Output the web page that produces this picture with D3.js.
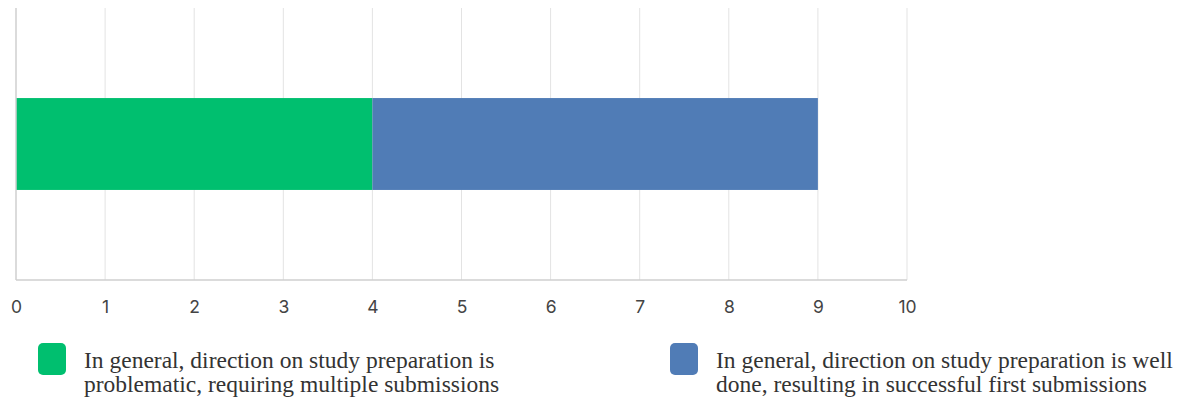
<!DOCTYPE html>
<html><head><meta charset="utf-8">
<script src="https://cdn.jsdelivr.net/npm/d3@7"></script>
<style>body{margin:0;background:#fff}svg{display:block}</style>
</head><body>
<svg id="chart" width="1194" height="406"></svg>
<script>
const categories = ["Responses"];
const seriesNames = [
  "In general, direction on study preparation is problematic, requiring multiple submissions",
  "In general, direction on study preparation is well done, resulting in successful first submissions"
];
const seriesValues = [4, 5];
const seriesColors = ["#00BF6F", "#507CB6"];
const tickValues = [0,1,2,3,4,5,6,7,8,9,10];
const legendLines = [
  ["In general, direction on study preparation is", "problematic, requiring multiple submissions"],
  ["In general, direction on study preparation is well", "done, resulting in successful first submissions"]
];

const svg = d3.select("#chart");
const m = {left:16, top:8, bottom:280};
const x = d3.scaleLinear().domain([0,10]).range([m.left, 907]);
const y = d3.scaleBand().domain(categories).range([m.top, m.bottom]).paddingInner(0).paddingOuter(0.98);

// gridlines
svg.append("g").selectAll("line").data(tickValues.slice(1)).join("line")
  .attr("x1", d=>x(d)).attr("x2", d=>x(d)).attr("y1", m.top).attr("y2", m.bottom)
  .attr("stroke", "#e3e3e3").attr("stroke-width", 1);

// stacked bars
let acc = 0;
const stacks = seriesValues.map((v,i)=>{const s={x0:acc,x1:acc+v,i}; acc+=v; return s;});
svg.append("g").selectAll("rect").data(stacks).join("rect")
  .attr("x", d=>x(d.x0)).attr("width", d=>x(d.x1)-x(d.x0))
  .attr("y", y(categories[0])).attr("height", y.bandwidth())
  .attr("fill", d=>seriesColors[d.i]);

// axes lines
svg.append("line").attr("x1", x(0)).attr("x2", x(0)).attr("y1", m.top).attr("y2", m.bottom)
  .attr("stroke", "#cfcfcf").attr("stroke-width", 1.5);
svg.append("line").attr("x1", x(0)).attr("x2", x(10)).attr("y1", m.bottom).attr("y2", m.bottom)
  .attr("stroke", "#cfcfcf").attr("stroke-width", 1.5);

// x axis labels
const xAxis = d3.axisBottom(x).tickValues(tickValues).tickSize(0).tickPadding(21).tickFormat(d3.format("d"));
const gx = svg.append("g").attr("transform", `translate(0,${m.bottom})`).call(xAxis);
gx.select(".domain").remove();
gx.selectAll("text").attr("font-family", "Inter, 'Open Sans', sans-serif").attr("font-size", 17.5).attr("fill", "#444");

// legend
const legendX = [38, 670];
const lg = svg.append("g").selectAll("g").data(seriesNames).join("g")
  .attr("transform", (d,i)=>`translate(${legendX[i]},343)`);
lg.append("rect").attr("width", 28).attr("height", 32).attr("rx", 5).attr("fill", (d,i)=>seriesColors[i]);
lg.append("text").attr("font-family", "'Liberation Serif', 'DejaVu Serif', serif")
  .attr("font-size", 23.5).attr("fill", "#333")
  .selectAll("tspan").data((d,i)=>legendLines[i]).join("tspan")
  .attr("x", 46).attr("y", (d,j)=>25 + j*24).text(d=>d);
</script>
</body></html>
